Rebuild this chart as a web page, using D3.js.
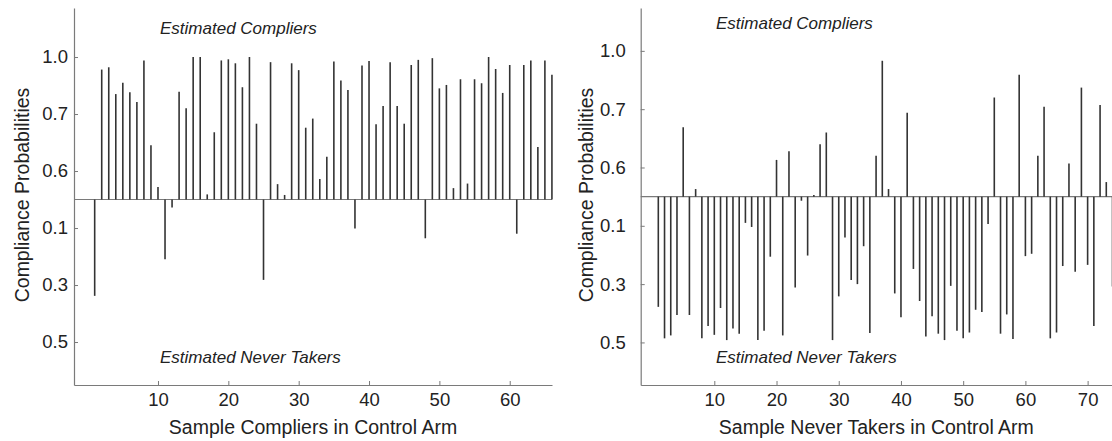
<!DOCTYPE html>
<html>
<head>
<meta charset="utf-8">
<script src="https://cdn.jsdelivr.net/npm/d3@7"></script>
<style>
  body { margin: 0; background: #fff; }
  svg { display: block; font-family: "Liberation Sans", Arial, sans-serif; }
</style>
</head>
<body>
<script>
// bar heights in tick-spacing units: 0 = baseline, +2.5 = "1.0" tick, -2.5 = "0.5" tick
const compliers = [-1.69, 2.28, 2.32, 1.85, 2.05, 1.88, 1.71, 2.44, 0.95, 0.22,
  -1.05, -0.14, 1.89, 1.60, 2.50, 2.50, 0.09, 1.18, 2.44, 2.46,
  2.39, 1.97, 2.50, 1.33, -1.41, 2.41, 0.27, 0.08, 2.39, 2.27,
  1.26, 1.42, 0.36, 0.75, 2.42, 2.09, 1.92, -0.51, 2.35, 2.43,
  1.32, 1.64, 2.41, 1.64, 1.33, 2.36, 2.45, -0.68, 2.48, 1.95,
  2.01, 0.20, 2.11, 0.28, 2.11, 2.04, 2.50, 2.29, 1.87, 2.36,
  -0.60, 2.36, 2.44, 0.92, 2.44, 2.19];

const neverTakers = [-1.89, -2.43, -2.38, -2.03, 1.19, -2.03, 0.13, -2.43, -2.22, -2.37,
  -1.91, -2.46, -2.26, -2.35, -0.45, -0.52, -2.46, -2.30, -1.03, 0.63,
  -2.38, 0.78, -1.56, -0.07, -1.01, 0.03, 0.90, 1.10, -2.46, -1.71,
  -0.70, -1.43, -1.50, -0.85, -2.34, 0.70, 2.33, 0.13, -1.66, -2.07,
  1.44, -1.24, -1.79, -2.40, -2.05, -2.35, -2.46, -1.53, -2.30, -2.43,
  -2.33, -1.94, -1.98, -0.47, 1.70, -2.35, -2.02, -2.44, 2.09, -1.02,
  -0.98, 0.70, 1.54, -2.43, -2.33, -1.19, 0.57, -1.29, 1.87, -1.17,
  -2.22, 1.57, 0.25, -1.54];

const yTickPos = [-2.5, -1.5, -0.5, 0.5, 1.5, 2.5];
const yTickLabels = ["0.5", "0.3", "0.1", "0.6", "0.7", "1.0"];
const xTicksLeft = [10, 20, 30, 40, 50, 60];
const xTicksRight = [10, 20, 30, 40, 50, 60, 70];

const W = 1112, H = 441;
const svg = d3.select("body").append("svg").attr("width", W).attr("height", H);

const panels = [
  { data: compliers, xTicks: xTicksLeft, xTitle: "Sample Compliers in Control Arm",
    xDomain: [-1.94, 66.01], xRange: [74, 552], yDomain: [-3.254, 3.36], yRange: [385, 8],
    yPad: 6, yTitleX: 28.5, topY: 34, topX: 160, botX: 160 },
  { data: neverTakers, xTicks: xTicksRight, xTitle: "Sample Never Takers in Control Arm",
    xDomain: [-1.83, 74.4], xRange: [640.7, 1115], yDomain: [-3.23, 3.235], yRange: [385, 8],
    yPad: 15, yTitleX: 593, topY: 29, topX: 716, botX: 716 }
];

panels.forEach(p => {
  const x = d3.scaleLinear().domain(p.xDomain).range(p.xRange);
  const y = d3.scaleLinear().domain(p.yDomain).range(p.yRange);
  const g = svg.append("g");

  // baseline
  g.append("line")
    .attr("x1", p.xRange[0]).attr("x2", p.xRange[1])
    .attr("y1", y(0)).attr("y2", y(0))
    .attr("stroke", "#7a7a7a").attr("stroke-width", 1.2);

  // bars
  g.selectAll(".bar")
    .data(p.data)
    .enter().append("line")
    .attr("class", "bar")
    .attr("x1", (d, i) => x(i + 1)).attr("x2", (d, i) => x(i + 1))
    .attr("y1", y(0)).attr("y2", d => y(d))
    .attr("stroke", "#333").attr("stroke-width", 1.6);

  // x axis
  const xa = g.append("g")
    .attr("transform", "translate(0," + p.yRange[0] + ")")
    .call(d3.axisBottom(x).tickValues(p.xTicks).tickSizeInner(-4).tickSizeOuter(0).tickPadding(8));
  xa.select(".domain").attr("stroke", "#7a7a7a").attr("stroke-width", 1.2);
  xa.selectAll(".tick line").attr("stroke", "#7a7a7a");
  xa.selectAll("text").attr("font-size", 18.5).attr("fill", "#222").attr("font-family", "Liberation Sans, Arial, sans-serif");

  // y axis
  const ya = g.append("g")
    .attr("transform", "translate(" + p.xRange[0] + ",0)")
    .call(d3.axisLeft(y).tickValues(yTickPos).tickFormat((d, i) => yTickLabels[i])
      .tickSizeInner(-4).tickSizeOuter(0).tickPadding(p.yPad));
  ya.select(".domain").attr("stroke", "#7a7a7a").attr("stroke-width", 1.2);
  ya.selectAll(".tick line").attr("stroke", "#7a7a7a");
  ya.selectAll("text").attr("font-size", 18.5).attr("fill", "#222").attr("font-family", "Liberation Sans, Arial, sans-serif");

  // titles
  g.append("text")
    .attr("x", (p.xRange[0] + Math.min(p.xRange[1], W)) / 2)
    .attr("y", 434)
    .attr("text-anchor", "middle")
    .attr("font-size", 19.5).attr("fill", "#222")
    .text(p.xTitle);

  g.append("text")
    .attr("transform", "translate(" + p.yTitleX + ",195) rotate(-90)")
    .attr("text-anchor", "middle")
    .attr("font-size", 19.5).attr("fill", "#222")
    .text("Compliance Probabilities");

  g.append("text")
    .attr("x", p.topX).attr("y", p.topY)
    .attr("font-size", 17).attr("font-style", "italic").attr("fill", "#222")
    .text("Estimated Compliers");

  g.append("text")
    .attr("x", p.botX).attr("y", 363)
    .attr("font-size", 17).attr("font-style", "italic").attr("fill", "#222")
    .text("Estimated Never Takers");
});
</script>
</body>
</html>
